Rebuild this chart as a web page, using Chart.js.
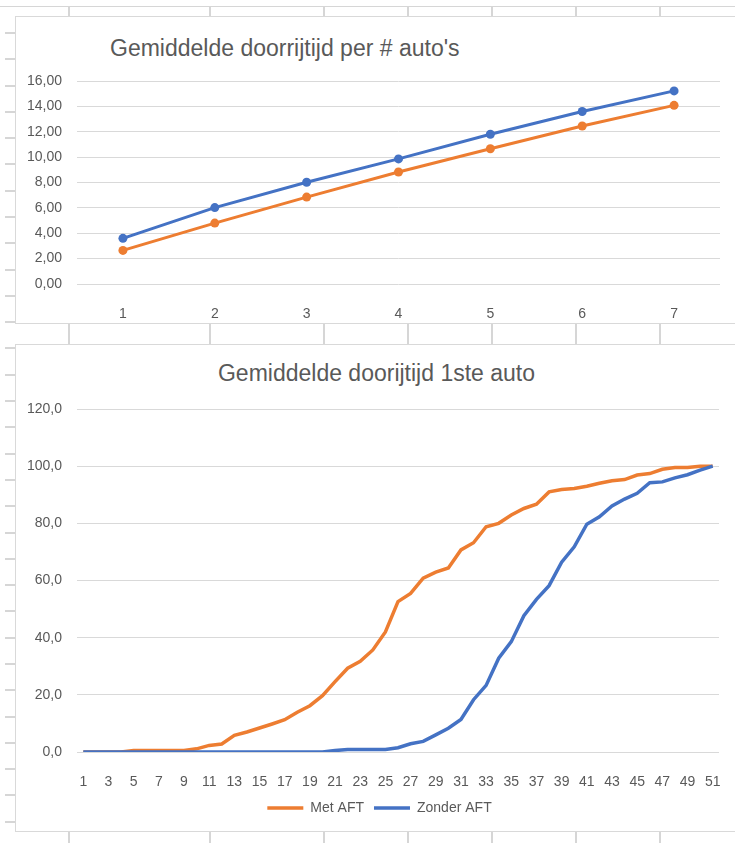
<!DOCTYPE html>
<html>
<head>
<meta charset="utf-8">
<script src="https://cdn.jsdelivr.net/npm/chart.js@4/dist/chart.umd.min.js"></script>
<style>
  body { margin: 0; background: #fff; overflow: hidden; width: 735px; height: 843px; position: relative; font-family: "Liberation Sans", Arial, sans-serif; }
  .line { position: absolute; background: #d6d6d6; }
  .box { position: absolute; box-sizing: border-box; border: 1px solid #d9d9d9; background: #fff; }
  .wrap { position: absolute; left: 0; top: 0; }
  .title { position: absolute; color: #595959; font-size: 23px; line-height: 23px; white-space: nowrap; }
</style>
</head>
<body>
<div class="box" id="box1" style="left:15px; top:16px; width:730px; height:308px;">
  <div class="title" style="left:94px; top:20px;">Gemiddelde doorrijtijd per # auto's</div>
  <div class="wrap" style="width:719px; height:306px;"><canvas id="c1"></canvas></div>
</div>
<div class="box" id="box2" style="left:15px; top:344px; width:730px; height:488px;">
  <div class="title" style="left:0; width:721px; text-align:center; top:17px;">Gemiddelde doorijtijd 1ste auto</div>
  <div class="wrap" style="width:719px; height:486px;"><canvas id="c2"></canvas></div>
</div>
<script>
// gegevens grafiek 1
const autos = ['1', '2', '3', '4', '5', '6', '7'];
const tijdMet = [2.65, 4.8, 6.85, 8.83, 10.66, 12.45, 14.08];
const tijdZonder = [3.6, 6.02, 8.02, 9.86, 11.8, 13.6, 15.22];

// gegevens grafiek 2
const stappen = [];
for (let i = 1; i <= 51; i++) stappen.push(String(i));
const metAFT = [0, 0, 0, 0, 0.5, 0.5, 0.5, 0.5, 0.5, 1.1,
  2.3, 2.8, 5.8, 7.0, 8.4, 9.8, 11.3, 13.9, 16.2, 19.7,
  24.6, 29.3, 31.7, 35.7, 42.0, 52.6, 55.5, 60.8, 62.9, 64.4,
  70.7, 73.2, 78.8, 80.0, 82.9, 85.2, 86.7, 91.0, 91.8, 92.2,
  93.0, 94.0, 94.9, 95.3, 96.9, 97.4, 98.9, 99.5, 99.5, 100, 100];
const zonderAFT = [0, 0, 0, 0, 0, 0, 0, 0, 0, 0,
  0, 0, 0, 0, 0, 0, 0, 0, 0, 0,
  0.5, 0.9, 0.9, 0.9, 0.9, 1.5, 2.9, 3.7, 6.0, 8.3,
  11.4, 18.3, 23.3, 32.8, 38.6, 47.7, 53.4, 58.2, 66.4, 71.8,
  79.7, 82.3, 86.1, 88.5, 90.5, 94.2, 94.5, 95.9, 97.0, 98.6, 100];

const oranje = '#ED7D31';
const blauw = '#4472C4';
const grijs = '#595959';
const raster = '#d9d9d9';

// spreadsheet achtergrond
function lijn(x, y, w, h) {
  const d = document.createElement('div');
  d.className = 'line';
  d.style.left = x + 'px'; d.style.top = y + 'px';
  d.style.width = w + 'px'; d.style.height = h + 'px';
  document.body.insertBefore(d, document.body.firstChild);
}
lijn(0, 6, 735, 1);
[68, 209, 323, 407, 491, 575, 659].forEach(x => {
  lijn(x, 6, 2, 12);
  lijn(x, 322, 2, 24);
  lijn(x, 830, 2, 13);
});
for (let k = 0; k <= 30; k++) lijn(5, Math.round(32 + k * 26.29), 11, 2);

Chart.defaults.font.family = '"Liberation Sans", Arial, sans-serif';
Chart.defaults.color = grijs;
Chart.defaults.animation = false;

new Chart(document.getElementById('c1'), {
  type: 'line',
  data: {
    labels: autos,
    datasets: [
      { label: 'Zonder AFT', data: tijdZonder, borderColor: blauw, backgroundColor: blauw,
        borderWidth: 3, pointRadius: 4.5, pointBorderWidth: 0, pointHoverRadius: 4.5 },
      { label: 'Met AFT', data: tijdMet, borderColor: oranje, backgroundColor: oranje,
        borderWidth: 3, pointRadius: 4.5, pointBorderWidth: 0, pointHoverRadius: 4.5 }
    ]
  },
  options: {
    responsive: true,
    maintainAspectRatio: false,
    layout: { padding: { top: 64, right: 15, bottom: 4, left: 0 } },
    plugins: { legend: { display: false }, tooltip: { enabled: false } },
    scales: {
      x: {
        offset: true,
        grid: { display: false },
        border: { display: false },
        ticks: { font: { size: 14 }, padding: 14, maxRotation: 0 },
        afterFit: s => { s.height = 35; }
      },
      y: {
        min: 0, max: 16,
        grid: { color: raster, drawTicks: false },
        border: { display: false },
        ticks: { stepSize: 2, font: { size: 14 }, padding: 15,
          callback: v => v.toFixed(2).replace('.', ',') },
        afterFit: s => { s.width = 61; }
      }
    }
  }
});

// legenda iets naar rechts, zoals in Excel
const legendaSchuif = {
  id: 'legendaSchuif',
  afterLayout(chart) {
    if (chart.legend) { chart.legend.left += 12; chart.legend.right += 12; }
  }
};

new Chart(document.getElementById('c2'), {
  type: 'line',
  data: {
    labels: stappen,
    datasets: [
      { label: 'Zonder AFT', data: zonderAFT, borderColor: blauw, backgroundColor: blauw,
        borderWidth: 3.5, pointRadius: 0, pointHoverRadius: 0 },
      { label: 'Met AFT', data: metAFT, borderColor: oranje, backgroundColor: oranje,
        borderWidth: 3.5, pointRadius: 0, pointHoverRadius: 0 }
    ]
  },
  plugins: [legendaSchuif],
  options: {
    responsive: true,
    maintainAspectRatio: false,
    layout: { padding: { top: 64, right: 16, bottom: 6, left: 0 } },
    plugins: {
      tooltip: { enabled: false },
      legend: {
        position: 'bottom',
        reverse: true,
        labels: { usePointStyle: true, pointStyle: 'line', pointStyleWidth: 36,
          font: { size: 14 }, color: grijs, padding: 10 }
      }
    },
    scales: {
      x: {
        offset: true,
        grid: { display: false },
        border: { display: false },
        ticks: { font: { size: 14 }, padding: 14, maxRotation: 0, autoSkip: false,
          callback: (v, i) => (i % 2 === 0 ? stappen[i] : '') },
        afterFit: s => { s.height = 39; }
      },
      y: {
        min: 0, max: 120,
        grid: { color: raster, drawTicks: false },
        border: { display: false },
        ticks: { stepSize: 20, font: { size: 14 }, padding: 15,
          callback: v => v.toFixed(1).replace('.', ',') },
        afterFit: s => { s.width = 61; }
      }
    }
  }
});
</script>
</body>
</html>
